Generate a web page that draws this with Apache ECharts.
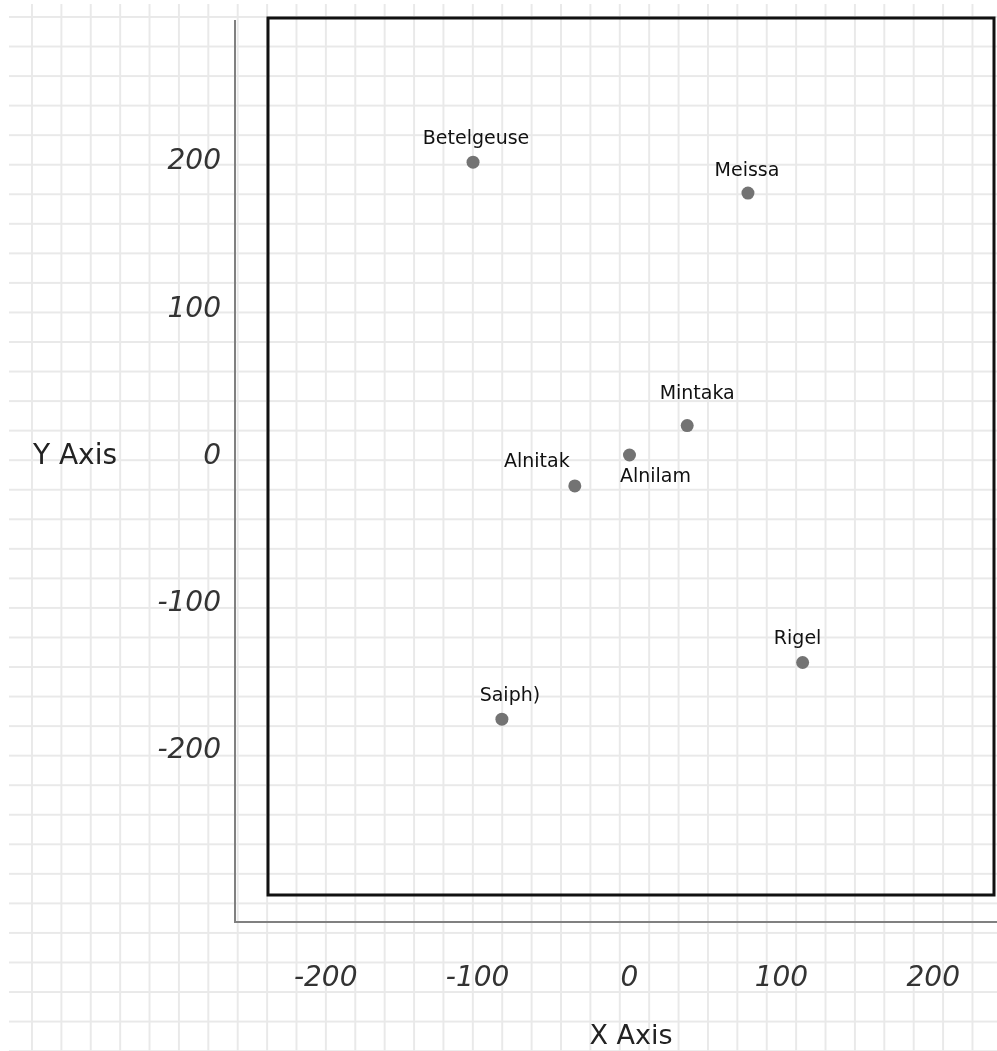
<!DOCTYPE html>
<html>
<head>
<meta charset="utf-8">
<script src="https://cdn.jsdelivr.net/npm/echarts@6/dist/echarts.min.js"></script>
<style>
  html, body { margin:0; padding:0; background:#fff; }
  #paper {
    position:absolute; left:9px; top:4px; width:988px; height:1047px;
    background-image:
      linear-gradient(to right, #e9e9e9 2px, transparent 2px),
      linear-gradient(to bottom, #e9e9e9 2px, transparent 2px);
    background-size: 29.4px 29.55px;
    background-position: 22px 12px;
  }
  #chart { position:absolute; left:0; top:0; width:997px; height:1051px; }
</style>
</head>
<body>
<div id="paper"></div>
<div id="chart"></div>
<script>
// ---- data ----
const starNames = ['Betelgeuse', 'Meissa', 'Mintaka', 'Alnilam', 'Alnitak', 'Rigel', 'Saiph)'];
const starX = [-103, 78, 38, 0, -36, 114, -84];
const starY = [200, 179, 21, 1, -20, -140, -178.5];
const xTicks = [-200, -100, 0, 100, 200];
const yTicks = [-200, -100, 0, 100, 200];
const xAxisName = 'X Axis';
const yAxisName = 'Y Axis';

// label nudges (presentation only)
const labelNudge = {
  'Betelgeuse': [3, 0], 'Meissa': [-1, 1], 'Mintaka': [10, -9],
  'Alnilam': [26, 45], 'Alnitak': [-38, -1], 'Rigel': [-5, 0], 'Saiph)': [8, 0]
};

const chart = echarts.init(document.getElementById('chart'), null, { renderer: 'canvas' });
const handFont = '"DejaVu Sans", sans-serif';

const seriesData = starNames.map((n, i) => ({
  name: n,
  value: [starX[i], starY[i]],
  label: { offset: labelNudge[n] || [0, 0] }
}));

chart.setOption({
  animation: false,
  backgroundColor: 'transparent',
  grid: {
    left: 268, top: 18, width: 726, height: 877,
    outerBoundsMode: 'none', containLabel: false,
    show: true, borderColor: '#111', borderWidth: 3, backgroundColor: 'transparent'
  },
  graphic: [{
    type: 'polyline', silent: true, z: 0,
    shape: { points: [[235, 20], [235, 922], [997, 922]] },
    style: { stroke: '#808080', lineWidth: 2, fill: null }
  }],
  xAxis: {
    type: 'value', min: -238, max: 240,
    name: xAxisName, nameLocation: 'middle', nameGap: 128,
    nameTextStyle: { fontFamily: handFont, fontSize: 27, color: '#222' },
    axisLine: { show: false }, axisTick: { show: false }, splitLine: { show: false },
    axisLabel: {
      customValues: xTicks, margin: 70,
      fontFamily: handFont, fontStyle: 'italic', fontSize: 28, color: '#333'
    }
  },
  yAxis: {
    type: 'value', min: -298, max: 298,
    name: yAxisName, nameLocation: 'middle', nameRotate: 0, nameGap: 151,
    nameTextStyle: { fontFamily: handFont, fontSize: 28, color: '#222', align: 'right' },
    axisLine: { show: false }, axisTick: { show: false }, splitLine: { show: false },
    axisLabel: {
      customValues: yTicks, margin: 47,
      fontFamily: handFont, fontStyle: 'italic', fontSize: 28, color: '#333'
    }
  },
  series: [{
    type: 'scatter',
    symbol: 'circle', symbolSize: 13,
    itemStyle: { color: '#737373', opacity: 1 },
    label: {
      show: true, position: 'top', distance: 7,
      formatter: p => p.name,
      fontFamily: handFont, fontSize: 19, color: '#111'
    },
    data: seriesData
  }]
});
</script>
</body>
</html>
